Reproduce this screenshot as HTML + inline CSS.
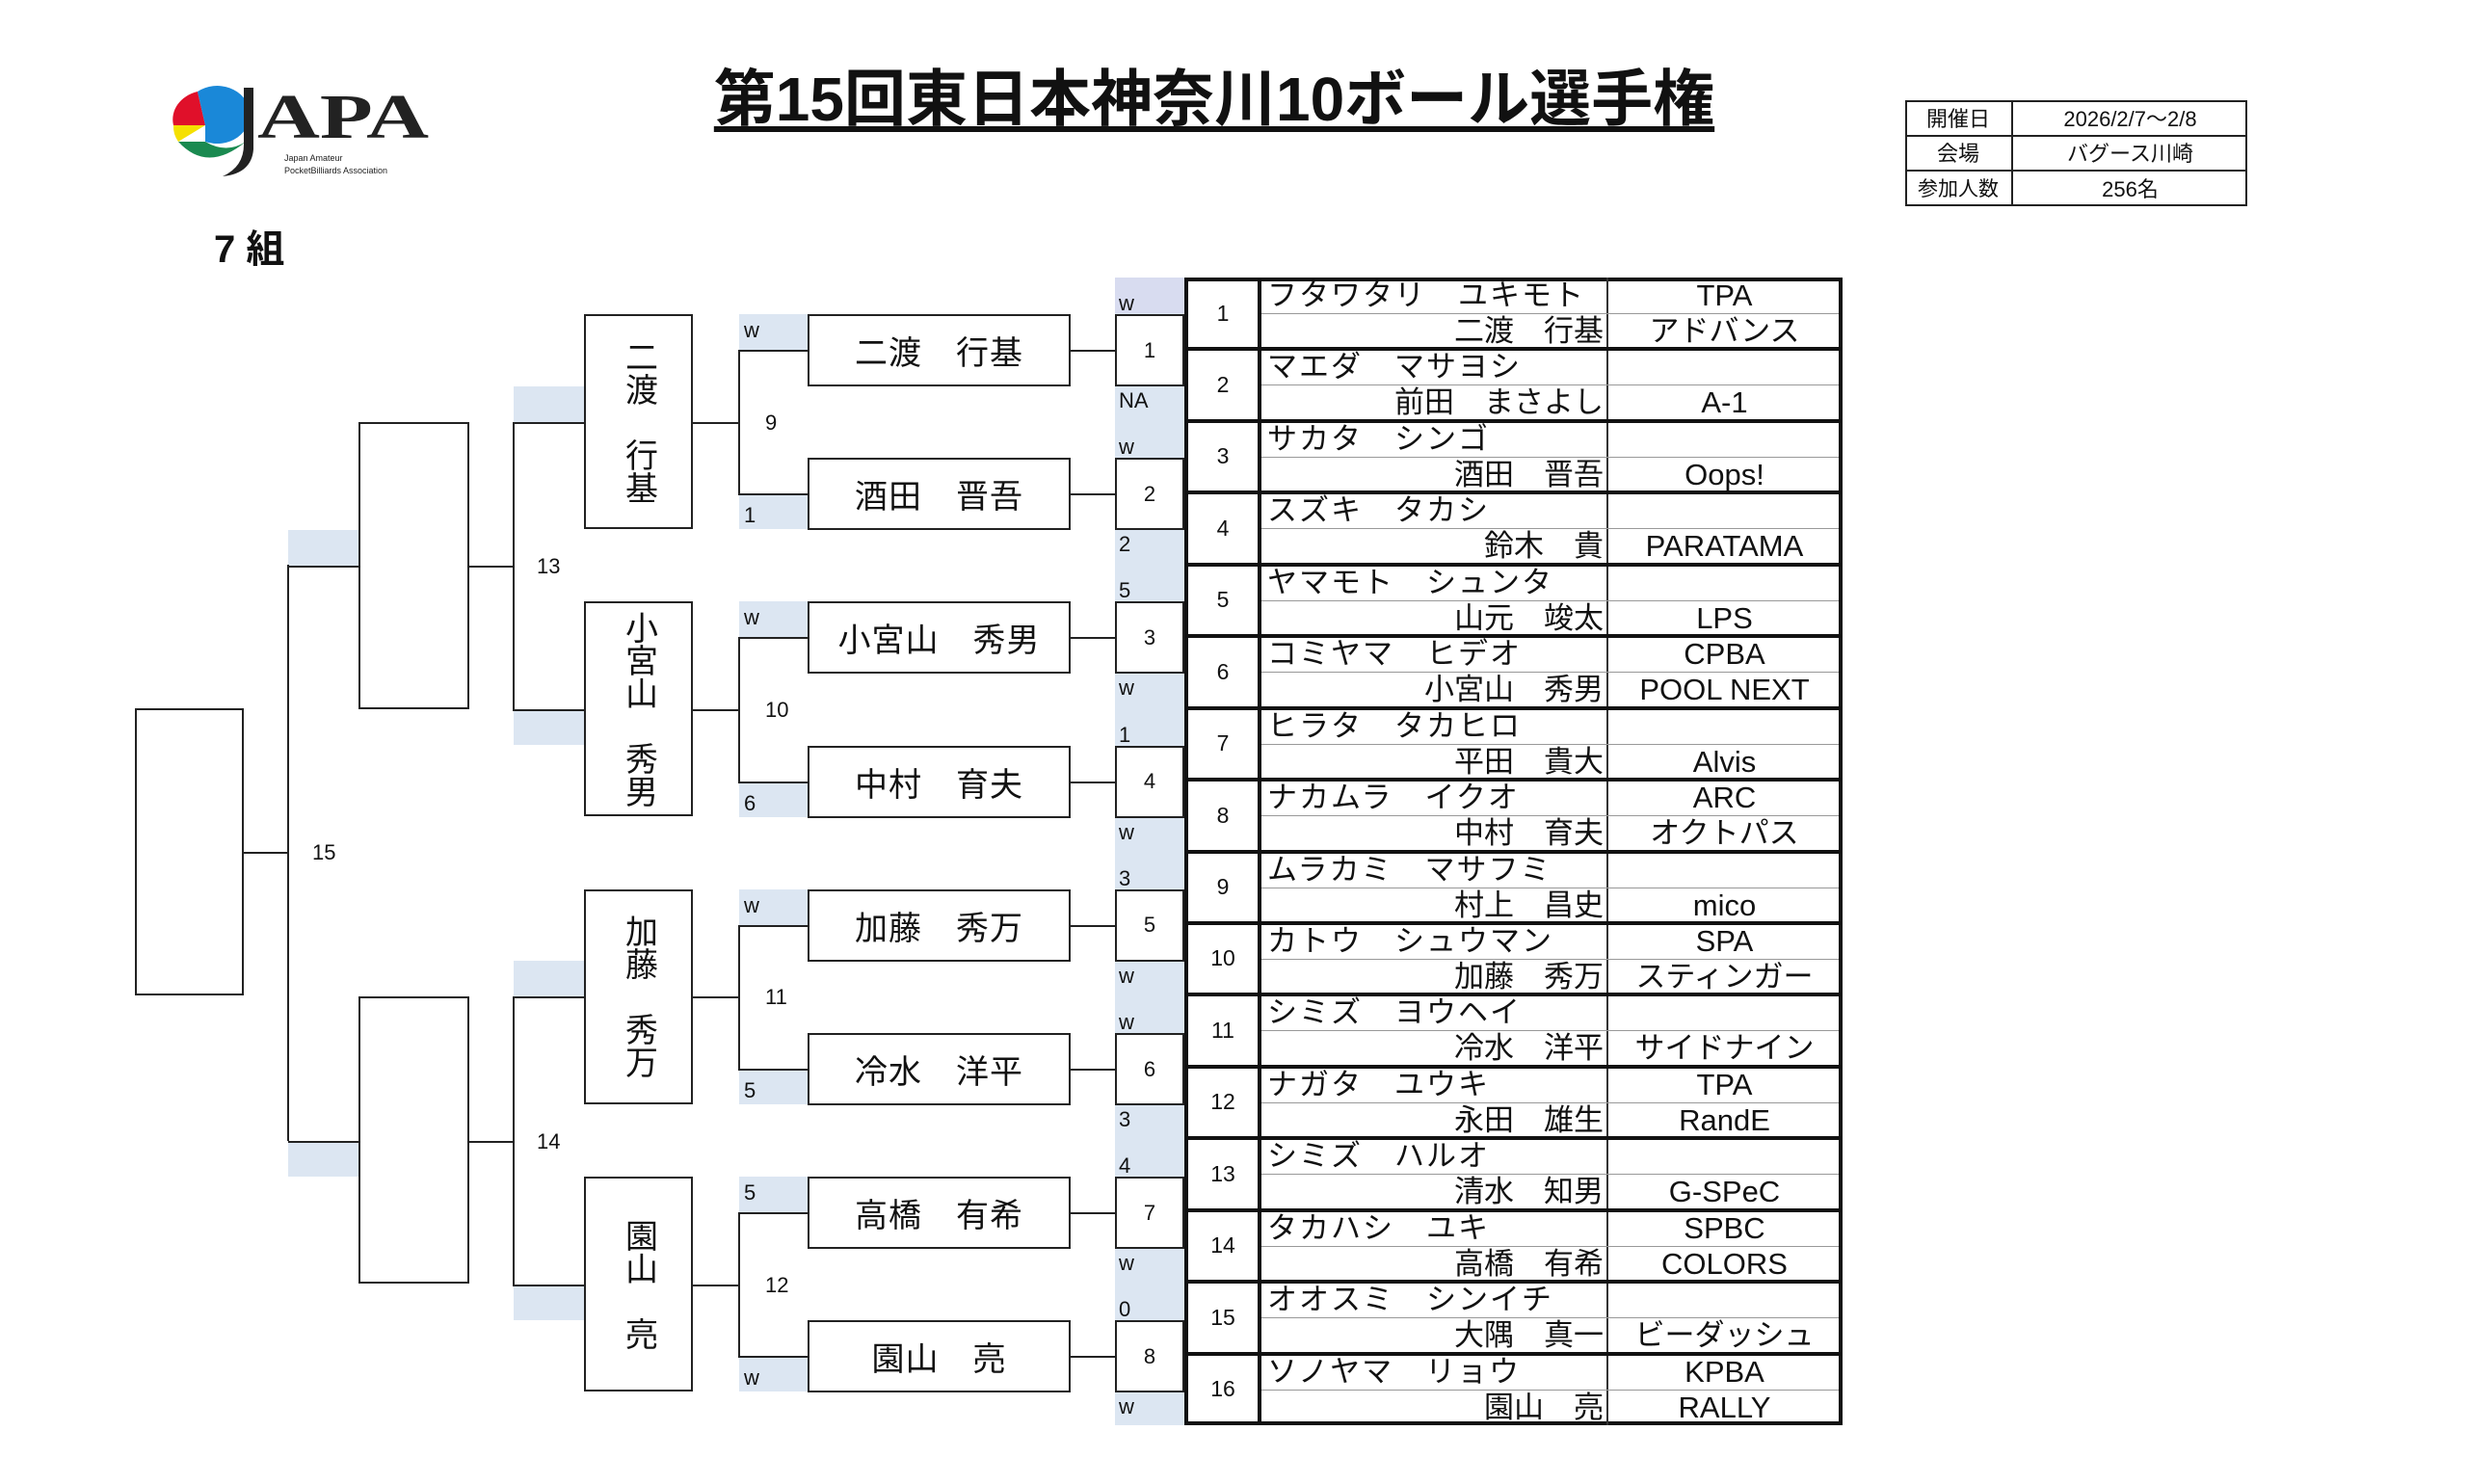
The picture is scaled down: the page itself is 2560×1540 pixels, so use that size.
<!DOCTYPE html>
<html><head><meta charset="utf-8">
<style>
*{margin:0;padding:0;box-sizing:border-box}
body{width:2560px;height:1540px;background:#fff;position:relative;overflow:hidden;font-family:"Liberation Sans","Noto Sans CJK JP",sans-serif;color:#111}
.a{position:absolute}
.box{position:absolute;border:2.5px solid #222;background:#fff}
.bl{position:absolute;background:#dce6f2}
.h{position:absolute;height:2px;background:#222}
.v{position:absolute;width:2px;background:#222}
.lbl{position:absolute;font-size:22px;line-height:22px}
.nm{display:flex;align-items:center;justify-content:center;font-size:34px;letter-spacing:1px}
.vt{display:flex;align-items:center;justify-content:center;writing-mode:vertical-rl;font-size:34px;line-height:34px}
.sd{display:flex;align-items:center;justify-content:center;font-size:22px}
</style></head><body>
<svg class="a" style="left:175px;top:85px" width="280" height="100" viewBox="0 0 280 100">
<path d="M30 10 A35 30 0 0 0 5 45 L38 45 Z" fill="#e0102a"/>
<path d="M30 10 A34 30 0 1 1 38 62 L38 45 Z" fill="#1a88d8"/>
<path d="M5 45 A35 30 0 0 0 10 62 L38 45 Z" fill="#f5e000"/>
<path d="M10 62 Q40 95 80 62 Q60 75 38 62 Z" fill="#1a8a50"/>
<path d="M78 6 L88 6 L88 70 Q86 95 56 98 Q78 88 78 65 Z" fill="#222"/>
<text x="92" y="58" font-family="Liberation Serif,serif" font-size="66" font-weight="bold" fill="#222" textLength="178" lengthAdjust="spacingAndGlyphs">APA</text>
<text x="120" y="82" font-size="9" fill="#222" font-family="Liberation Sans,sans-serif">Japan Amateur</text>
<text x="120" y="95" font-size="9" fill="#222" font-family="Liberation Sans,sans-serif">PocketBilliards Association</text>
</svg>
<div class="a" style="left:740px;top:64px;width:1040px;text-align:center;font-size:64px;font-weight:bold;line-height:78px;text-decoration:underline;text-underline-offset:6px;white-space:nowrap">第15回東日本神奈川10ボール選手権</div>
<div class="a" style="left:222px;top:226px;font-size:40px;font-weight:bold">7 組</div>
<div class="a" style="left:1977px;top:104px;width:355px;height:110px;border:2.5px solid #222"></div>
<div class="v" style="left:2087px;top:104px;height:110px"></div>
<div class="h" style="left:1977px;top:140px;width:355px"></div>
<div class="h" style="left:1977px;top:176px;width:355px"></div>
<div class="a sd" style="left:1977px;top:104px;width:110px;height:36px;font-size:22px">開催日</div>
<div class="a sd" style="left:1977px;top:140px;width:110px;height:36px;font-size:22px">会場</div>
<div class="a sd" style="left:1977px;top:176px;width:110px;height:38px;font-size:21px">参加人数</div>
<div class="a sd" style="left:2089px;top:104px;width:243px;height:36px">2026/2/7～2/8</div>
<div class="a sd" style="left:2089px;top:140px;width:243px;height:36px">バグース川崎</div>
<div class="a sd" style="left:2089px;top:176px;width:243px;height:38px">256名</div>

<div id="root"></div>
<script>
(function(){
var H='';
function d(c,s,t){H+='<div class="'+c+'" style="'+s+'">'+(t===undefined?'':t)+'</div>';}
d('bl','left:1157px;top:288px;width:72px;height:1191px');
d('a','left:1157px;top:288px;width:72px;height:37px;background:#d8dcf0');
var stripL=[['w','NA'],['w','2'],['5','w'],['1','w'],['3','w'],['w','3'],['4','w'],['0','w']];
var names=['二渡　行基','酒田　晋吾','小宮山　秀男','中村　育夫','加藤　秀万','冷水　洋平','高橋　有希','園山　亮'];
var pairL=[['w','1'],['w','6'],['w','5'],['5','w']];
for(var k=0;k<8;k++){
 var t=326+k*149.2, b=t+74, m=t+37;
 d('box sd','left:1157px;top:'+t+'px;width:72px;height:75px',k+1);
 d('lbl','left:1161px;top:'+(t-22)+'px',stripL[k][0]);
 d('lbl','left:1161px;top:'+(b+5)+'px',stripL[k][1]);
 d('box nm','left:838px;top:'+t+'px;width:273px;height:75px',names[k]);
 d('h','left:1111px;top:'+m+'px;width:46px');
 var isTop=(k%2==0);
 d('bl','left:767px;top:'+(isTop?t:m)+'px;width:71px;height:37px');
 d('lbl','left:772px;top:'+(isTop?t+6:m+12)+'px',pairL[k>>1][isTop?0:1]);
 d('h','left:767px;top:'+m+'px;width:71px');
}
var r2=['二渡　行基','小宮山　秀男','加藤　秀万','園山　亮'];
for(var p=0;p<4;p++){
 var m1=326+2*p*149.2+37, m2=m1+149.2, mid=(m1+m2)/2;
 d('v','left:766px;top:'+m1+'px;height:'+(m2-m1+2)+'px');
 d('h','left:719px;top:'+mid+'px;width:48px');
 d('lbl','left:794px;top:'+(mid-10)+'px',9+p);
 d('box vt','left:606px;top:'+(m1-37)+'px;width:113px;height:223px',r2[p]);
 var up=(p%2==0);
 d('bl','left:533px;top:'+(up?mid-37:mid)+'px;width:73px;height:37px');
 d('h','left:533px;top:'+mid+'px;width:73px');
}
for(var q=0;q<2;q++){
 var a=326+4*q*149.2+111.6, c=a+298.4, mid=(a+c)/2;
 d('v','left:532px;top:'+a+'px;height:'+(c-a+2)+'px');
 d('h','left:487px;top:'+mid+'px;width:46px');
 d('lbl','left:557px;top:'+(mid-10)+'px',13+q);
 d('box','left:372px;top:'+a+'px;width:115px;height:298px');
 d('bl','left:299px;top:'+(q==0?mid-37:mid)+'px;width:73px;height:37px');
 d('h','left:299px;top:'+mid+'px;width:73px');
}
d('v','left:298px;top:586px;height:598px');
d('h','left:253px;top:884px;width:46px');
d('lbl','left:324px;top:874px','15');
d('box','left:140px;top:735px;width:113px;height:298px');
var kana=['フタワタリ　ユキモト','マエダ　マサヨシ','サカタ　シンゴ','スズキ　タカシ','ヤマモト　シュンタ','コミヤマ　ヒデオ','ヒラタ　タカヒロ','ナカムラ　イクオ','ムラカミ　マサフミ','カトウ　シュウマン','シミズ　ヨウヘイ','ナガタ　ユウキ','シミズ　ハルオ','タカハシ　ユキ','オオスミ　シンイチ','ソノヤマ　リョウ'];
var kan=['二渡　行基','前田　まさよし','酒田　晋吾','鈴木　貴','山元　竣太','小宮山　秀男','平田　貴大','中村　育夫','村上　昌史','加藤　秀万','冷水　洋平','永田　雄生','清水　知男','高橋　有希','大隅　真一','園山　亮'];
var c1=['TPA','','','','','CPBA','','ARC','','SPA','','TPA','','SPBC','','KPBA'];
var c2=['アドバンス','A-1','Oops!','PARATAMA','LPS','POOL NEXT','Alvis','オクトパス','mico','スティンガー','サイドナイン','RandE','G-SPeC','COLORS','ビーダッシュ','RALLY'];
d('a','left:1229px;top:288px;width:683px;height:1191px;border:4px solid #111;background:#fff');
d('a','left:1305px;top:288px;width:4px;height:1191px;background:#111');
d('a','left:1667px;top:288px;width:2px;height:1191px;background:#333');
for(var g=0;g<16;g++){
 var y=288+g*74.44;
 if(g>0) d('a','left:1229px;top:'+(y-2)+'px;width:683px;height:4px;background:#111');
 d('a','left:1309px;top:'+(y+37)+'px;width:599px;height:1px;background:#999');
 d('a sd','left:1233px;top:'+y+'px;width:72px;height:74px;font-size:23px',g+1);
 d('a','left:1315px;top:'+(y+1)+'px;font-size:31px;line-height:36px;white-space:pre;letter-spacing:2px',kana[g]);
 d('a','left:1309px;top:'+(y+38)+'px;width:355px;text-align:right;font-size:31px;line-height:36px;white-space:pre',kan[g]);
 d('a','left:1669px;top:'+(y+1)+'px;width:241px;text-align:center;font-size:31px;line-height:36px',c1[g]);
 d('a','left:1669px;top:'+(y+38)+'px;width:241px;text-align:center;font-size:31px;line-height:36px;white-space:nowrap',c2[g]);
}
document.getElementById('root').innerHTML=H;
})();
</script>
</body></html>
